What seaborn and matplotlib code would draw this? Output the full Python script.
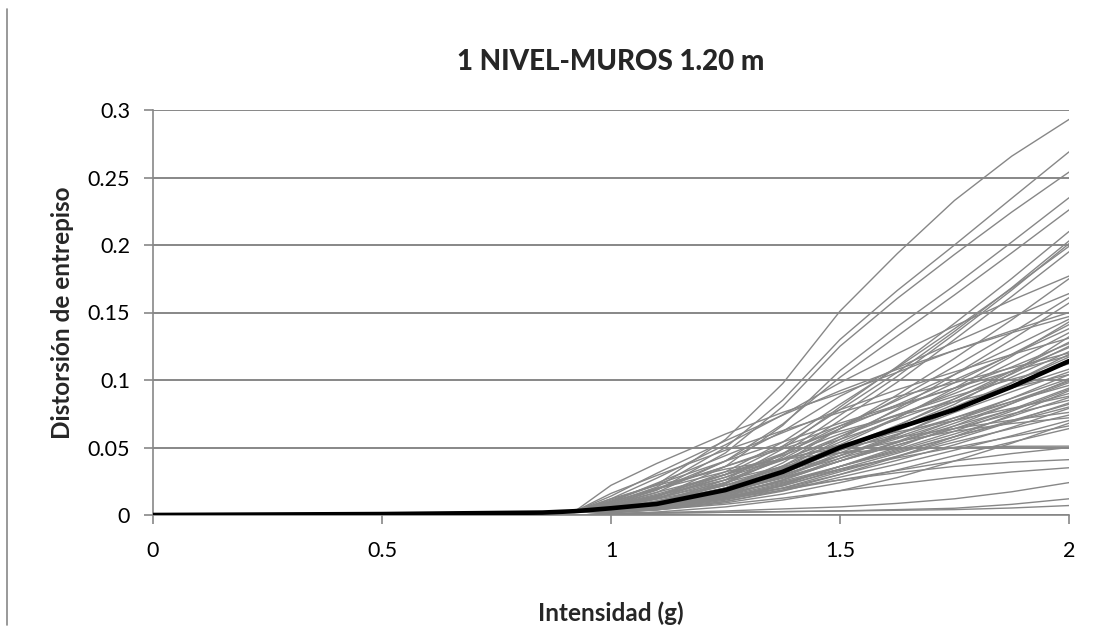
import numpy as np
import pandas as pd
import matplotlib
matplotlib.use("Agg")
import matplotlib.pyplot as plt
from matplotlib.lines import Line2D
import seaborn as sns

# Intensity levels (g) at which interstory drift was recorded
intensity = [0.0, 0.5, 0.85, 0.92, 1.0, 1.1, 1.25, 1.375, 1.5, 1.625, 1.75, 1.875, 2.0]

# Shared low-intensity response (elastic range), same for every record
drift_0 = 0.0
drift_050 = 0.0005
drift_085 = 0.0015
drift_092 = 0.0025

# Drift of each ground-motion record at 1.0 ... 2.0 g
drift_100 = [0.010, 0.009, 0.008, 0.006, 0.007, 0.004, 0.005, 0.004, 0.006, 0.004,
             0.012, 0.003, 0.008, 0.004, 0.003, 0.014, 0.005, 0.003, 0.006, 0.004,
             0.010, 0.003, 0.005, 0.004, 0.008, 0.003, 0.016, 0.006, 0.002, 0.022,
             0.004, 0.003, 0.006, 0.002, 0.005, 0.003, 0.008, 0.002, 0.004, 0.003,
             0.010, 0.002, 0.004, 0.002, 0.012, 0.003, 0.004, 0.002, 0.001, 0.001,
             0.001, 0.005, 0.003, 0.007, 0.004, 0.003, 0.004, 0.002, 0.005, 0.009,
             0.003, 0.002, 0.006, 0.004, 0.011, 0.003, 0.001, 0.007]
drift_110 = [0.0225, 0.0207, 0.0183, 0.0131, 0.0167, 0.0090, 0.0122, 0.0084, 0.0135, 0.0082,
             0.0273, 0.0066, 0.0189, 0.0096, 0.0062, 0.0309, 0.0124, 0.0073, 0.0144, 0.0095,
             0.0236, 0.0066, 0.0121, 0.0087, 0.0190, 0.0062, 0.0293, 0.0141, 0.0049, 0.0382,
             0.0082, 0.0062, 0.0125, 0.0043, 0.0102, 0.0061, 0.0168, 0.0042, 0.0078, 0.0055,
             0.0193, 0.0040, 0.0081, 0.0038, 0.0220, 0.0060, 0.0078, 0.0039, 0.0018, 0.0014,
             0.0014, 0.0105, 0.0064, 0.0154, 0.0083, 0.0054, 0.0085, 0.0038, 0.0091, 0.0199,
             0.0062, 0.0046, 0.0117, 0.0080, 0.0227, 0.0058, 0.0022, 0.0145]
drift_125 = [0.056, 0.050, 0.046, 0.036, 0.040, 0.026, 0.030, 0.024, 0.032, 0.023,
             0.052, 0.020, 0.040, 0.024, 0.018, 0.055, 0.028, 0.020, 0.030, 0.022,
             0.044, 0.017, 0.026, 0.020, 0.036, 0.016, 0.048, 0.028, 0.014, 0.060,
             0.018, 0.015, 0.024, 0.012, 0.020, 0.014, 0.030, 0.011, 0.016, 0.012,
             0.032, 0.010, 0.016, 0.009, 0.034, 0.012, 0.014, 0.008, 0.003, 0.002,
             0.002, 0.022, 0.016, 0.030, 0.019, 0.013, 0.020, 0.010, 0.018, 0.036,
             0.015, 0.012, 0.022, 0.017, 0.040, 0.013, 0.006, 0.026]
drift_138 = [0.0974, 0.0851, 0.0804, 0.0664, 0.0674, 0.0490, 0.0511, 0.0452, 0.0540, 0.0430,
             0.0742, 0.0386, 0.0620, 0.0415, 0.0341, 0.0740, 0.0451, 0.0364, 0.0457, 0.0362,
             0.0610, 0.0304, 0.0406, 0.0332, 0.0507, 0.0289, 0.0625, 0.0412, 0.0260, 0.0760,
             0.0295, 0.0259, 0.0352, 0.0222, 0.0301, 0.0236, 0.0410, 0.0200, 0.0250, 0.0199,
             0.0415, 0.0177, 0.0242, 0.0155, 0.0413, 0.0184, 0.0197, 0.0125, 0.0045, 0.0025,
             0.0025, 0.0346, 0.0281, 0.0441, 0.0317, 0.0229, 0.0340, 0.0185, 0.0279, 0.0491,
             0.0259, 0.0215, 0.0322, 0.0272, 0.0541, 0.0217, 0.0111, 0.0359]
drift_150 = [0.151, 0.130, 0.125, 0.107, 0.102, 0.080, 0.078, 0.074, 0.082, 0.070,
             0.098, 0.064, 0.088, 0.064, 0.056, 0.092, 0.066, 0.058, 0.064, 0.054,
             0.078, 0.048, 0.058, 0.050, 0.066, 0.046, 0.076, 0.056, 0.042, 0.090,
             0.044, 0.040, 0.048, 0.036, 0.042, 0.036, 0.052, 0.032, 0.036, 0.030,
             0.050, 0.028, 0.034, 0.024, 0.046, 0.026, 0.026, 0.018, 0.006, 0.003,
             0.003, 0.050, 0.044, 0.060, 0.048, 0.036, 0.052, 0.030, 0.040, 0.062,
             0.040, 0.034, 0.044, 0.040, 0.068, 0.033, 0.018, 0.046]
drift_163 = [0.1936, 0.1663, 0.1604, 0.1395, 0.1326, 0.1100, 0.1057, 0.1027, 0.1092, 0.0984,
             0.1195, 0.0890, 0.1090, 0.0862, 0.0787, 0.1079, 0.0850, 0.0777, 0.0817, 0.0722,
             0.0928, 0.0661, 0.0740, 0.0665, 0.0803, 0.0625, 0.0878, 0.0707, 0.0590, 0.1057,
             0.0577, 0.0536, 0.0600, 0.0487, 0.0537, 0.0477, 0.0615, 0.0436, 0.0467, 0.0405,
             0.0575, 0.0377, 0.0423, 0.0334, 0.0490, 0.0330, 0.0313, 0.0230, 0.0086, 0.0040,
             0.0035, 0.0647, 0.0595, 0.0743, 0.0644, 0.0501, 0.0717, 0.0430, 0.0517, 0.0735,
             0.0544, 0.0457, 0.0565, 0.0519, 0.0813, 0.0434, 0.0277, 0.0545]
drift_175 = [0.233, 0.200, 0.193, 0.170, 0.163, 0.142, 0.136, 0.134, 0.138, 0.130,
             0.140, 0.116, 0.128, 0.110, 0.104, 0.122, 0.104, 0.098, 0.100, 0.092,
             0.106, 0.086, 0.090, 0.084, 0.094, 0.080, 0.098, 0.086, 0.078, 0.122,
             0.072, 0.068, 0.072, 0.062, 0.066, 0.060, 0.070, 0.056, 0.058, 0.052,
             0.064, 0.048, 0.050, 0.044, 0.050, 0.040, 0.036, 0.028, 0.012, 0.005,
             0.004, 0.080, 0.076, 0.088, 0.082, 0.066, 0.094, 0.058, 0.064, 0.084,
             0.070, 0.058, 0.070, 0.064, 0.094, 0.054, 0.040, 0.062]
drift_188 = [0.2658, 0.2346, 0.2244, 0.2022, 0.1942, 0.1752, 0.1684, 0.1666, 0.1679, 0.1619,
             0.1591, 0.1446, 0.1465, 0.1349, 0.1299, 0.1351, 0.1241, 0.1191, 0.1187, 0.1129,
             0.1189, 0.1065, 0.1067, 0.1021, 0.1065, 0.0981, 0.1090, 0.1044, 0.0979, 0.1365,
             0.0864, 0.0827, 0.0840, 0.0769, 0.0780, 0.0731, 0.0790, 0.0691, 0.0690, 0.0649,
             0.0703, 0.0587, 0.0580, 0.0540, 0.0509, 0.0455, 0.0391, 0.0319, 0.0172, 0.0079,
             0.0052, 0.0943, 0.0913, 0.1005, 0.1050, 0.0825, 0.1176, 0.0742, 0.0749, 0.0943,
             0.0865, 0.0700, 0.0841, 0.0782, 0.1096, 0.0641, 0.0532, 0.0678]
drift_200 = [0.293, 0.269, 0.254, 0.235, 0.226, 0.210, 0.203, 0.201, 0.199, 0.195,
             0.177, 0.175, 0.164, 0.161, 0.157, 0.147, 0.145, 0.141, 0.138, 0.135,
             0.131, 0.128, 0.124, 0.121, 0.118, 0.117, 0.120, 0.125, 0.119, 0.150,
             0.101, 0.098, 0.096, 0.093, 0.090, 0.087, 0.088, 0.083, 0.080, 0.079,
             0.076, 0.070, 0.066, 0.064, 0.051, 0.050, 0.041, 0.035, 0.024, 0.012,
             0.007, 0.108, 0.106, 0.112, 0.132, 0.100, 0.143, 0.092, 0.085, 0.104,
             0.104, 0.082, 0.099, 0.094, 0.127, 0.074, 0.068, 0.072]

# Representative (mean) response curve
mean_intensity = [0.0, 0.5, 0.85, 0.92, 1.0, 1.1, 1.25, 1.375, 1.5, 1.625, 1.75, 1.875, 2.0]
drift_mean = [0.0, 0.0007, 0.0018, 0.0028, 0.005, 0.0082, 0.0185, 0.032, 0.050,
              0.0644, 0.078, 0.095, 0.114]

x_ticks = [0, 0.5, 1, 1.5, 2]
x_tick_labels = ["0", "0.5", "1", "1.5", "2"]
y_ticks = [0, 0.05, 0.1, 0.15, 0.2, 0.25, 0.3]
y_tick_labels = ["0", "0.05", "0.1", "0.15", "0.2", "0.25", "0.3"]

title_text = "1 NIVEL-MUROS 1.20 m"
x_label = "Intensidad (g)"
y_label = "Distorsión de entrepiso"

# Long-form table: one row per (record, intensity)
rows = []
for i in range(len(drift_200)):
    values = [drift_0, drift_050, drift_085, drift_092,
              drift_100[i], drift_110[i], drift_125[i], drift_138[i],
              drift_150[i], drift_163[i], drift_175[i], drift_188[i], drift_200[i]]
    for xv, yv in zip(intensity, values):
        rows.append({"record": i, "intensity": xv, "drift": yv})
records = pd.DataFrame(rows)
mean_df = pd.DataFrame({"intensity": mean_intensity, "drift": drift_mean})

sns.set_theme(style="white")
plt.rcParams["font.family"] = ["Lato", "DejaVu Sans"]

grey = "#878787"
fig = plt.figure(figsize=(10.97, 6.35), dpi=100)
ax = fig.add_axes([153 / 1097, 1 - 515 / 635, (1069 - 153) / 1097, (515 - 110) / 635])

sns.lineplot(data=records, x="intensity", y="drift", units="record", estimator=None,
             color=grey, linewidth=1.0, ax=ax, zorder=3, legend=False)
sns.lineplot(data=mean_df, x="intensity", y="drift", color="black", linewidth=3.3,
             ax=ax, zorder=4, legend=False)

ax.set_xlim(0, 2)
ax.set_ylim(0, 0.3)
ax.set_xticks(x_ticks)
ax.set_xticklabels(x_tick_labels)
ax.set_yticks(y_ticks)
ax.set_yticklabels(y_tick_labels)

ax.yaxis.grid(True, color=grey, linewidth=1.4, zorder=1)
ax.xaxis.grid(False)
ax.set_axisbelow(True)
for side in ("top", "right"):
    ax.spines[side].set_visible(False)
for side in ("left", "bottom"):
    ax.spines[side].set_color(grey)
    ax.spines[side].set_linewidth(1.2)

ax.tick_params(axis="both", which="major", direction="out", color=grey,
               length=6.5, width=1.2, labelsize=15.5, labelcolor="black")
ax.tick_params(axis="y", pad=10)
ax.tick_params(axis="x", pad=12)
ax.tick_params(left=True, bottom=True)

ax.set_xlabel(x_label, fontsize=17.5, fontweight="bold", labelpad=29)
ax.set_ylabel(y_label, fontsize=17.5, fontweight="bold", labelpad=10)
fig.text(611 / 1097, 1 - 62 / 635, title_text, fontsize=20, fontweight="black",
         ha="center", va="center")

# Frame edge on the left of the sheet
fig.add_artist(Line2D([7 / 1097, 7 / 1097], [1 - 9 / 635, 1 - 625 / 635],
                      color=grey, linewidth=1.2, transform=fig.transFigure))

fig.savefig("out.png", dpi=100)
